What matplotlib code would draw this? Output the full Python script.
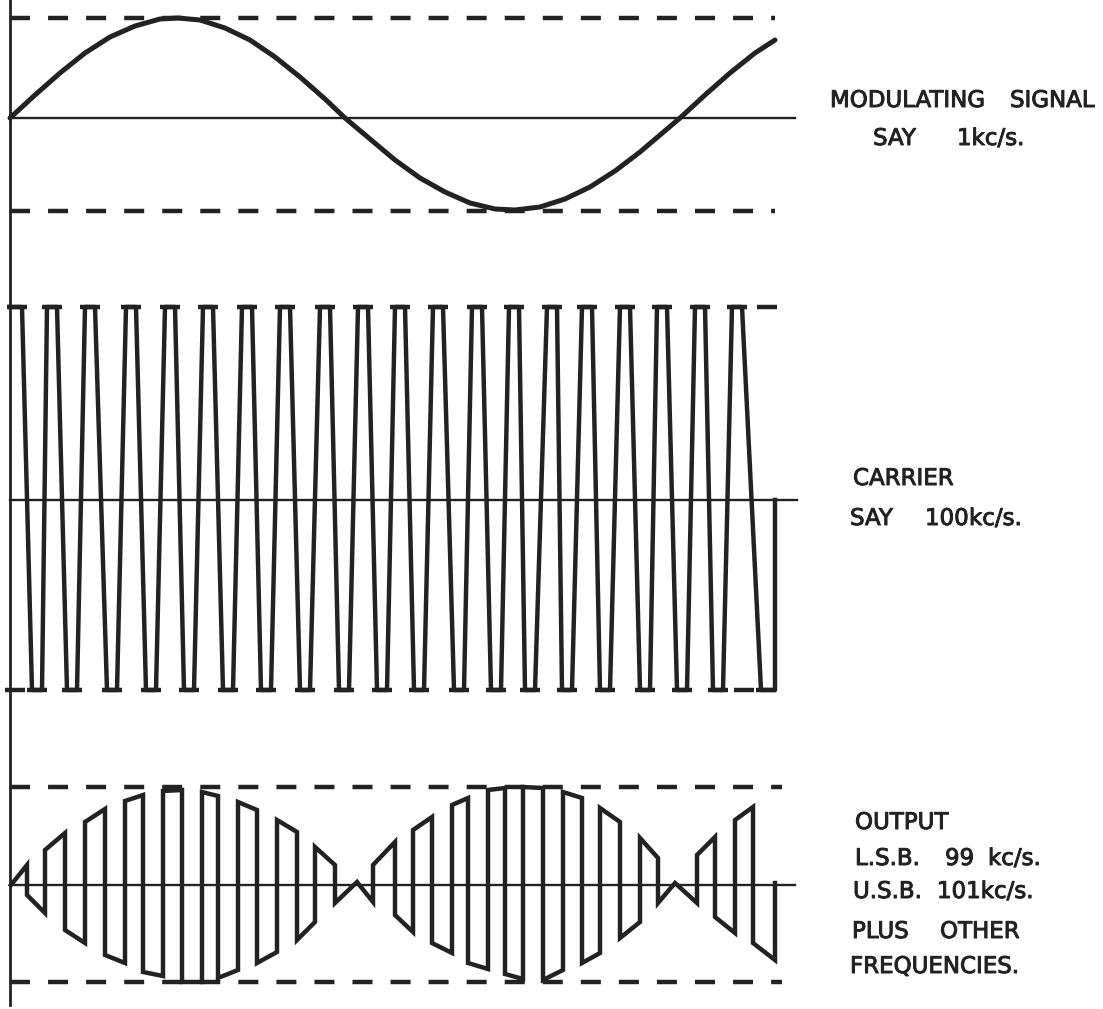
import numpy as np
import matplotlib
matplotlib.use("Agg")
import matplotlib.pyplot as plt
from matplotlib import font_manager
import matplotlib.patheffects as pe

plt.rcParams['lines.scale_dashes'] = False
ink = "#222222"

# modulating signal, say 1 kc/s  (time along the drawing, amplitude up = +)
mod_t = [10, 35, 60, 85, 110, 135, 160, 178, 200, 225, 250, 275, 300, 325, 345,
         370, 395, 420, 445, 470, 495, 515, 540, 565, 590, 615, 640, 660, 680,
         705, 730, 755, 775]
mod_v = [0, 23, 45, 65, 81, 92, 99, 100, 98, 90, 78, 61, 41, 19, 0,
         -21, -42, -60, -74, -85, -91, -92, -89, -81, -69, -53, -34, -17, 0,
         23, 45, 65, 78]

# carrier, say 100 kc/s : times of the crests and of the troughs
car_top = [17, 52, 90, 131, 170, 208, 247, 285, 325, 363,
           400, 438, 477, 514, 552, 587, 625, 662, 700, 737]
car_bot = [37, 72, 112, 151, 189, 228, 266, 305, 344, 382,
           419, 459, 496, 530, 567, 605, 645, 682, 718, 766]
car_hi, car_lo = 193, -190
# short guide dashes drawn at the crests / troughs
car_top_dash = car_top + [767]
car_bot_dash = [15] + car_bot[:-1] + [744, 766]

# output (L.S.B. + U.S.B.): corner points of the chopped waveform
out_t = [11, 27, 27, 45, 45, 65, 65, 85, 85, 105, 105, 125, 125, 143, 143, 163,
         163, 182, 182, 202, 202, 218, 218, 238, 238, 257, 257, 277, 277, 297,
         297, 315, 315, 335, 335, 357, 373, 373, 395, 395, 413, 413, 432, 432,
         452, 452, 468, 468, 488, 488, 505, 505, 523, 523, 543, 543, 563, 563,
         582, 582, 600, 600, 620, 620, 640, 640, 658, 658, 675, 697, 697, 715,
         715, 735, 735, 753, 753, 775, 775]
out_v = [0, 20, -10, -28, 35, 52, -45, -58, 63, 76, -70, -78, 84, 90, -87, -91,
         94, 95, -97, -97, 93, 89, -93, -85, 83, 75, -78, -67, 65, 53,
         -55, -37, 38, 20, -18, 3, -17, 20, 43, -30, -47, 55, 68, -58,
         -68, 80, 87, -78, -84, 95, 97, -89, -94, 98, 97, -95, -85, 93,
         87, -78, -68, 77, 63, -53, -37, 47, 27, -18, 2, -18, 30, 48,
         -32, -48, 65, 78, -58, -75, 2]

# label words with their left edge / baseline
words = [("MODULATING", 830, 107), ("SIGNAL", 1010, 107),
         ("SAY", 873, 145), ("1kc/s.", 957, 145),
         ("CARRIER", 853, 485),
         ("SAY", 850, 525), ("100", 925, 525), ("kc/s.", 969, 525),
         ("OUTPUT", 855, 829),
         ("L.S.B.", 855, 865), ("99", 945, 865), ("kc/s.", 988, 865),
         ("U.S.B.", 853, 898), ("101kc/s.", 937, 898),
         ("PLUS", 852, 938), ("OTHER", 940, 938),
         ("FREQUENCIES.", 850, 973)]

fig = plt.figure(figsize=(11.03, 10.09), dpi=100)
ax = fig.add_axes([0, 0, 1, 1])
ax.set_xlim(0, 1103)
ax.set_ylim(1009, 0)
ax.axis('off')

# panel centre lines and guide levels
c_mod, c_car, c_out = 118, 500, 885
dash = (14.4, 13.0)
lw_thick = 3.2
lw_thin = 1.7

ax.plot([10, 10], [0, 1005], color=ink, lw=2.0)

# --- modulating signal
ax.plot([10, 795], [c_mod, c_mod], color=ink, lw=lw_thin)
for lev in (100, -93):
    ax.plot([10, 775], [c_mod - lev, c_mod - lev], color=ink, lw=lw_thick,
            dashes=dash, solid_capstyle='butt')
ax.plot(mod_t, c_mod - np.array(mod_v), color=ink, lw=3.6,
        solid_joinstyle='round', solid_capstyle='round')

# --- carrier
ax.plot([10, 797], [c_car, c_car], color=ink, lw=lw_thin)
cx, cv = [10], [car_hi]
for i, (tp, bt) in enumerate(zip(car_top, car_bot)):
    if i > 0:
        cx.append(tp - 5); cv.append(car_hi)
    cx.append(tp + 5); cv.append(car_hi)
    cx += [bt - 5, bt + 5]; cv += [car_lo, car_lo]
cx += [775, 775]; cv += [car_lo, 0]
ax.plot(cx, c_car - np.array(cv), color=ink, lw=lw_thick, solid_joinstyle='round')
td = np.array(car_top_dash)
bd = np.array(car_bot_dash)
ax.hlines(np.full(len(td), c_car - car_hi), td - 10, td + 10, color=ink, lw=lw_thick)
ax.hlines(np.full(len(bd), c_car - car_lo), bd - 10, bd + 10, color=ink, lw=lw_thick)

# --- output
ax.plot([10, 795], [c_out, c_out], color=ink, lw=lw_thin)
for lev in (98, -97):
    ax.plot([10, 782], [c_out - lev, c_out - lev], color=ink, lw=lw_thick,
            dashes=dash, solid_capstyle='butt')
ax.plot(out_t, c_out - np.array(out_v), color=ink, lw=lw_thick,
        solid_joinstyle='miter')

# labels - narrow lettering if the font is there
names = {f.name for f in font_manager.fontManager.ttflist}
if 'Liberation Sans Narrow' in names:
    fam, fs = 'Liberation Sans Narrow', 19.5
else:
    fam, fs = 'DejaVu Sans', 16.5
for w, x, y in words:
    ax.text(x, y, w, color=ink, fontsize=fs, family=fam, ha='left', va='baseline',
            path_effects=[pe.withStroke(linewidth=0.7, foreground=ink)])

fig.savefig("out.png", dpi=100)
